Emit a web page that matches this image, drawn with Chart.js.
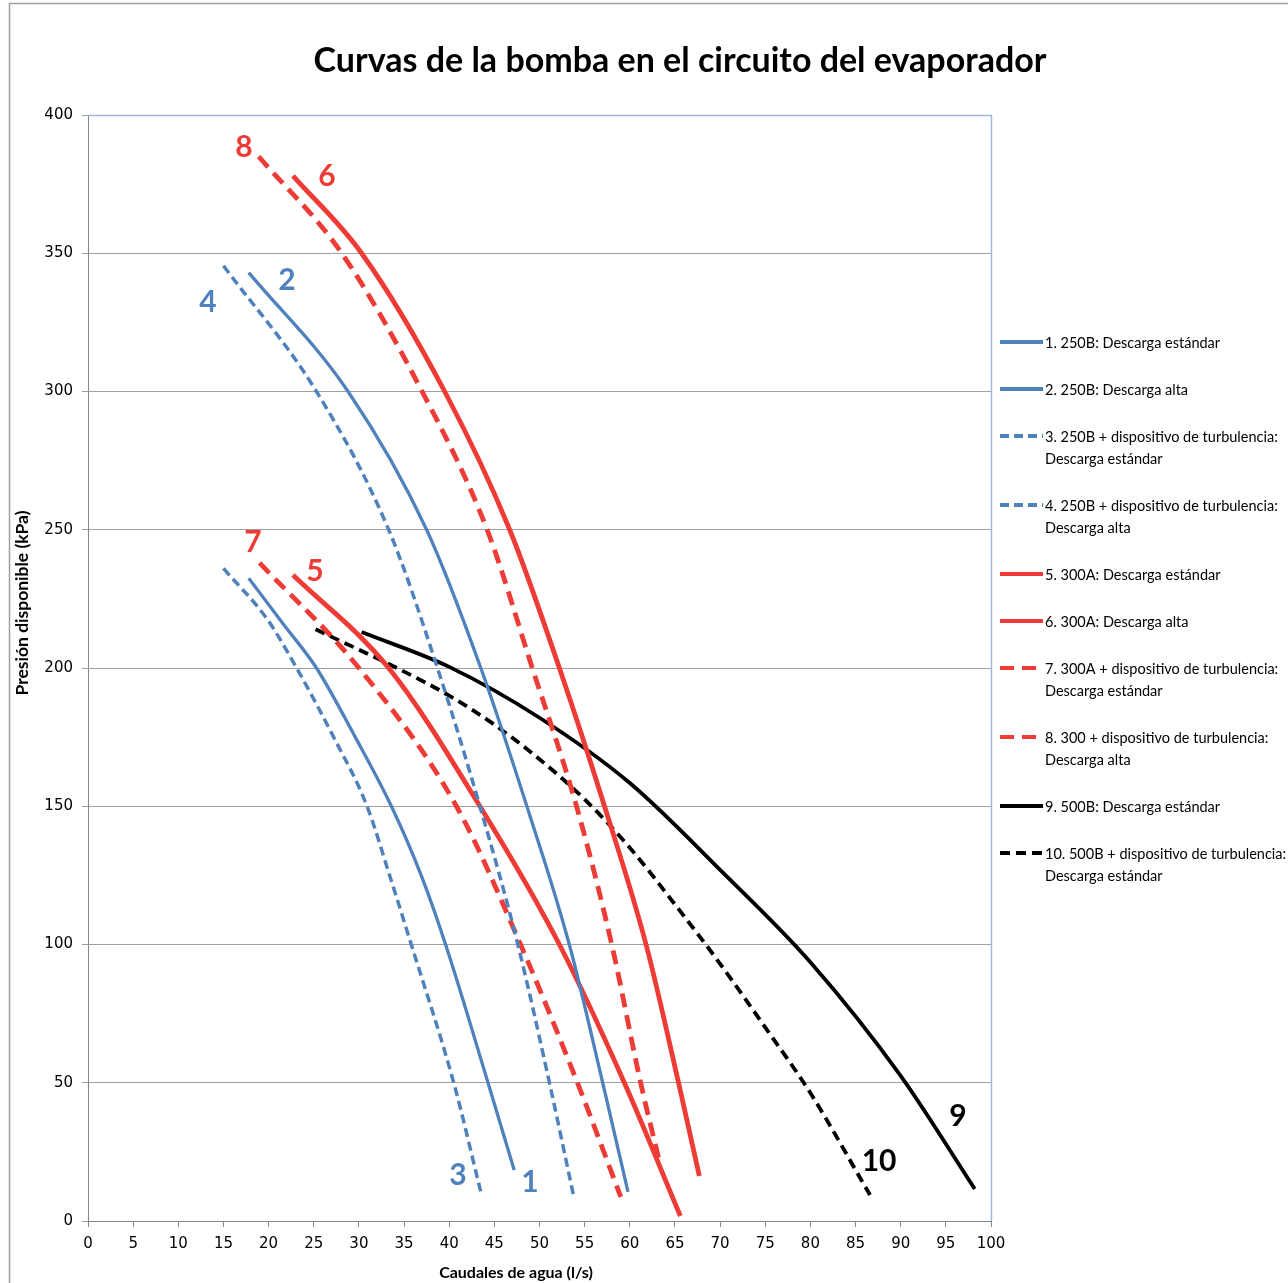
<!DOCTYPE html>
<html><head><meta charset="utf-8">
<script src="https://cdn.jsdelivr.net/npm/chart.js@4.4.0/dist/chart.umd.min.js"></script>
<style>html,body{margin:0;padding:0;background:#fff;} canvas{display:block;}</style>
</head><body>
<canvas id="c" width="1288" height="1283"></canvas>
<script>
const chartTitle = "Curvas de la bomba en el circuito del evaporador";
const xAxisTitle = "Caudales de agua (l/s)";
const yAxisTitle = "Presión disponible (kPa)";
const xTickStep = 5, xMin = 0, xMax = 100;
const yTickStep = 50, yMin = 0, yMax = 400;

const seriesNames = [
  "1. 250B: Descarga estándar",
  "2. 250B: Descarga alta",
  "3. 250B + dispositivo de turbulencia:\nDescarga estándar",
  "4. 250B + dispositivo de turbulencia:\nDescarga alta",
  "5. 300A: Descarga estándar",
  "6. 300A: Descarga alta",
  "7. 300A + dispositivo de turbulencia:\nDescarga estándar",
  "8. 300 + dispositivo de turbulencia:\nDescarga alta",
  "9. 500B: Descarga estándar",
  "10. 500B + dispositivo de turbulencia:\nDescarga estándar"
];

const s1x = [17.8, 21.6, 25.3, 29.6, 33.6, 36.9, 39.6, 44.3, 47.2];
const s1y = [232.5, 216, 200, 175, 150, 125, 100, 50, 18.4];
const s2x = [17.8, 28.8, 37.5, 43.5, 48.6, 53.3, 57.0, 59.8];
const s2y = [343, 300, 250, 200, 150, 100, 50, 10.5];
const s3x = [15, 19.9, 23.1, 27.2, 30.9, 33.4, 35.8, 40.5, 43.5];
const s3y = [236, 217.4, 200, 175, 150, 125, 100, 50, 10.5];
const s4x = [15, 25.3, 33.3, 38.7, 43.4, 47.6, 51.1, 53.8];
const s4y = [345.5, 300, 250, 200, 150, 100, 50, 8.7];
const s5x = [22.7, 33.3, 43.4, 52.2, 59.4, 65.6];
const s5y = [233.6, 200, 150, 100, 50, 1.8];
const s6x = [22.7, 30.3, 39.5, 46.7, 52.2, 57.2, 61.8, 65.4, 67.7];
const s6y = [378, 350, 300, 250, 200, 150, 100, 50, 16.3];
const s7x = [19, 30.0, 40.8, 47.9, 54.2, 59];
const s7y = [238, 200, 150, 100, 50, 8.7];
const s8x = [18.9, 28.1, 37.0, 44.2, 49.2, 54.1, 58.0, 61.2, 63.3];
const s8y = [385, 350, 300, 250, 200, 150, 100, 50, 21.3];
const s9x = [30.3, 40, 50, 60, 70, 80, 90, 98.2];
const s9y = [213, 200.4, 182, 158.4, 127, 93.6, 52.5, 11.6];
const s10x = [25.2, 34.2, 40, 45, 50, 55, 60, 65, 70, 75, 80, 86.6];
const s10y = [214, 200, 190, 179.5, 167, 152.5, 135, 114.5, 93, 70, 46.3, 9.4];

const curveLabels = ["1", "2", "3", "4", "5", "6", "7", "8", "9", "10"];
const curveLabelX = [48.95, 22.04, 40.98, 13.29, 25.14, 26.47, 18.27, 17.28, 96.35, 87.6];
const curveLabelY = [14.1, 340.3, 16.6, 332.4, 234.9, 377.9, 245.6, 388.4, 38.0, 21.7];

const BLUE = '#4F81BD', RED = '#EE3B35', BLACK = '#000000';
const allX = [s1x, s2x, s3x, s4x, s5x, s6x, s7x, s8x, s9x, s10x];
const allY = [s1y, s2y, s3y, s4y, s5y, s6y, s7y, s8y, s9y, s10y];
const styles = [
  {c: BLUE, w: 3.3, d: []},
  {c: BLUE, w: 3.3, d: []},
  {c: BLUE, w: 3.5, d: [9, 5]},
  {c: BLUE, w: 3.5, d: [9, 5]},
  {c: RED, w: 4.8, d: []},
  {c: RED, w: 4.8, d: []},
  {c: RED, w: 4.8, d: [14, 8]},
  {c: RED, w: 4.8, d: [14, 8]},
  {c: BLACK, w: 3.8, d: []},
  {c: BLACK, w: 3.8, d: [10, 6]}
];
const labelColors = [BLUE, BLUE, BLUE, BLUE, RED, RED, RED, RED, BLACK, BLACK];

const datasets = seriesNames.map((name, i) => ({
  label: name,
  data: allX[i].map((x, j) => ({x: x, y: allY[i][j]})),
  borderColor: styles[i].c,
  borderWidth: styles[i].w,
  borderDash: styles[i].d,
  cubicInterpolationMode: 'monotone',
  pointRadius: 0,
  fill: false
}));

const decor = {
  id: 'decor',
  beforeDatasetsDraw(chart) {
    const ctx = chart.ctx, a = chart.chartArea;
    ctx.save();
    ctx.strokeStyle = '#9DB9DC';
    ctx.lineWidth = 1.5;
    ctx.beginPath();
    ctx.moveTo(a.left, a.top + 0.5);
    ctx.lineTo(a.right + 0.5, a.top + 0.5);
    ctx.lineTo(a.right + 0.5, a.bottom);
    ctx.stroke();
    ctx.restore();
  },
  afterDraw(chart) {
    const ctx = chart.ctx;
    const xs = chart.scales.x, ys = chart.scales.y;
    ctx.save();
    ctx.strokeStyle = '#A0A0A0';
    ctx.lineWidth = 1.5;
    ctx.strokeRect(9.5, 3.5, 1400, 1400);
    ctx.fillStyle = '#000';
    ctx.font = 'bold 34px Lato';
    ctx.textAlign = 'center';
    ctx.textBaseline = 'middle';
    ctx.fillText(chartTitle, 680, 61);
    ctx.font = 'bold 16px Lato';
    ctx.fillText(xAxisTitle, 516, 1273);
    ctx.save();
    ctx.translate(22, 603);
    ctx.rotate(-Math.PI / 2);
    ctx.font = 'bold 17.5px Lato';
    ctx.fillText(yAxisTitle, 0, 0);
    ctx.restore();
    ctx.font = 'bold 30px Lato';
    curveLabels.forEach((t, i) => {
      ctx.fillStyle = labelColors[i];
      ctx.fillText(t, xs.getPixelForValue(curveLabelX[i]), ys.getPixelForValue(curveLabelY[i]));
    });
    let y = 342;
    chart.data.datasets.forEach(ds => {
      const lines = ds.label.split('\n');
      ctx.save();
      ctx.strokeStyle = ds.borderColor;
      ctx.lineWidth = 4;
      ctx.setLineDash(ds.borderDash || []);
      ctx.beginPath();
      ctx.moveTo(1000, y);
      ctx.lineTo(1043, y);
      ctx.stroke();
      ctx.restore();
      ctx.fillStyle = '#000';
      ctx.font = '14.5px Lato';
      ctx.textAlign = 'left';
      ctx.textBaseline = 'middle';
      lines.forEach((l, k) => ctx.fillText(l, 1045, y + 1 + k * 22));
      y += 47 + 22 * (lines.length - 1);
    });
    ctx.restore();
  }
};

new Chart(document.getElementById('c'), {
  type: 'line',
  data: {datasets: datasets},
  options: {
    responsive: false,
    animation: false,
    layout: {padding: {left: 0, top: 115, right: 297, bottom: 0}},
    plugins: {legend: {display: false}, title: {display: false}, tooltip: {enabled: false}},
    elements: {point: {radius: 0}},
    scales: {
      x: {
        type: 'linear', min: xMin, max: xMax,
        ticks: {stepSize: xTickStep, font: {family: 'DejaVu Sans', size: 15}, color: '#000', padding: 8, maxRotation: 0, autoSkip: false},
        grid: {drawOnChartArea: false, drawTicks: true, tickLength: 6, color: '#868686'},
        border: {color: '#868686'},
        afterFit: s => { s.height = 62; }
      },
      y: {
        type: 'linear', min: yMin, max: yMax,
        ticks: {stepSize: yTickStep, font: {family: 'DejaVu Sans', size: 15}, color: '#000', padding: 9},
        grid: {color: '#A0A0A0', tickLength: 6},
        border: {color: '#868686'},
        afterFit: s => { s.width = 88; }
      }
    }
  },
  plugins: [decor]
});
</script>
</body></html>
